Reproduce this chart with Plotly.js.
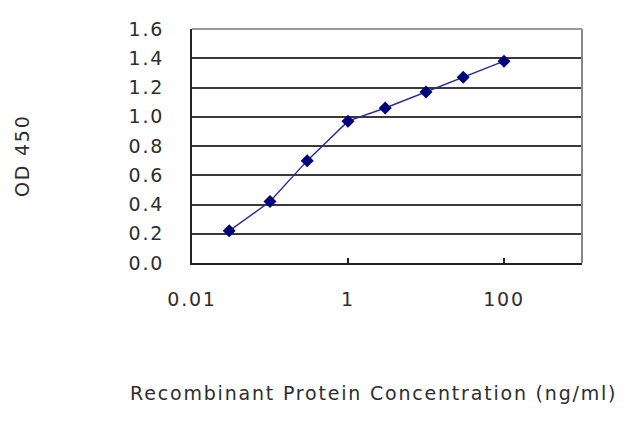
<!DOCTYPE html>
<html>
<head>
<meta charset="utf-8">
<script src="https://cdn.plot.ly/plotly-3.0.1.min.js"></script>
<style>
html,body{margin:0;padding:0;background:#fff;}
#chart svg text{letter-spacing:1.8px;}
</style>
</head>
<body>
<div id="chart" style="width:640px;height:427px;"></div>
<script>
const concentration = [0.03, 0.1, 0.3, 1, 3, 10, 30, 100];
const od450 = [0.22, 0.42, 0.70, 0.97, 1.06, 1.17, 1.27, 1.38];
const xTickVals = [0.01, 1, 100];
const xTickText = ['0.01', '1', '100'];
const yTickVals = [0, 0.2, 0.4, 0.6, 0.8, 1.0, 1.2, 1.4, 1.6];
const xTitle = 'Recombinant Protein Concentration (ng/ml)';
const yTitle = 'OD 450';

const fontFam = 'DejaVu Sans, Arial, sans-serif';
const txtColor = '#2e2e2e';
const fs = 19;

const trace = {
  x: concentration,
  y: od450,
  type: 'scatter',
  mode: 'lines+markers',
  line: {color: '#2a2a96', width: 1.4},
  marker: {symbol: 'diamond', size: 10, color: '#00007a'},
  hoverinfo: 'none'
};

const layout = {
  width: 640, height: 427,
  margin: {l: 192, r: 58, t: 29, b: 164},
  paper_bgcolor: '#fff', plot_bgcolor: '#fff',
  showlegend: false,
  font: {family: fontFam, size: fs, color: txtColor},
  xaxis: {
    type: 'log', range: [-2, 3],
    tickvals: xTickVals, ticktext: xTickText,
    ticks: 'inside', ticklen: 5, tickwidth: 2, tickcolor: '#222',
    ticklabelstandoff: 18,
    showgrid: false, zeroline: false,
    showline: true, linecolor: '#222', linewidth: 2,
    mirror: false,
    tickfont: {family: fontFam, size: fs, color: txtColor}
  },
  yaxis: {
    range: [0, 1.6],
    tickvals: yTickVals, tickformat: '.1f',
    ticks: '', ticklabelstandoff: 22,
    showgrid: true, gridcolor: '#3a3a3a', gridwidth: 2,
    zeroline: false,
    showline: true, linecolor: '#222', linewidth: 2,
    tickfont: {family: fontFam, size: fs, color: txtColor}
  },
  shapes: [
    {type: 'line', xref: 'paper', yref: 'paper', x0: 1, x1: 1, y0: 0, y1: 1,
     line: {color: '#888', width: 2}},
    {type: 'line', xref: 'paper', yref: 'paper', x0: 0, x1: 1, y0: 1, y1: 1,
     line: {color: '#999', width: 2}}
  ],
  annotations: [
    {text: xTitle, xref: 'paper', yref: 'paper', x: 0.465, y: -0.555,
     xanchor: 'center', yanchor: 'middle', showarrow: false,
     font: {family: fontFam, size: fs, color: txtColor}},
    {text: yTitle, xref: 'paper', yref: 'paper', x: -0.435, y: 0.46,
     textangle: -90, xanchor: 'center', yanchor: 'middle', showarrow: false,
     font: {family: fontFam, size: fs, color: txtColor}}
  ]
};

Plotly.newPlot('chart', [trace], layout, {displayModeBar: false, staticPlot: true});
</script>
</body>
</html>
